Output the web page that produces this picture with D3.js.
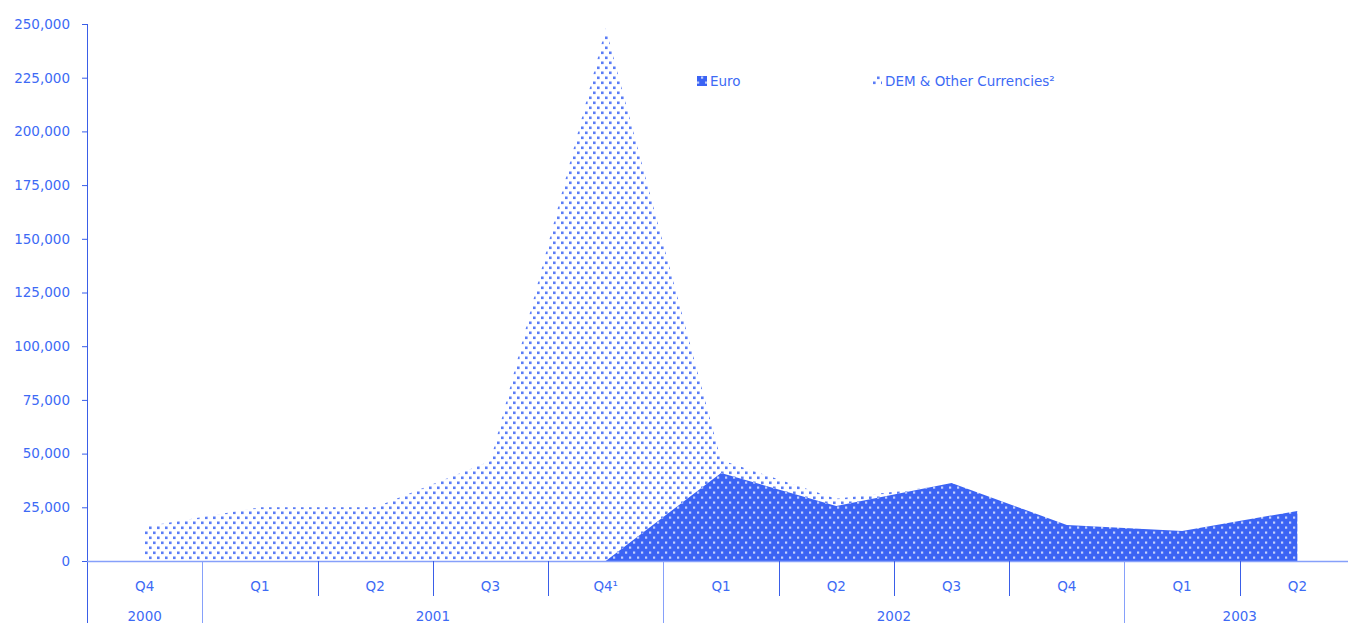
<!DOCTYPE html>
<html><head><meta charset="utf-8">
<script src="https://cdn.jsdelivr.net/npm/d3@7"></script>
<style>body{margin:0;background:#fff;}svg{display:block;}</style>
</head><body>
<svg id="c" width="1348" height="623"></svg>
<script>
const quarters = ["Q4","Q1","Q2","Q3","Q4\u00b9","Q1","Q2","Q3","Q4","Q1","Q2"];
const years = [{label:"2000",from:0,to:0},{label:"2001",from:1,to:4},{label:"2002",from:5,to:8},{label:"2003",from:9,to:10}];
const demOther = [16000,25000,25000,46500,248000,47000,29000,35500];
const euro = [null,null,null,null,0,41000,25600,36300,16800,14000,23300];
const yTicks = [0,25000,50000,75000,100000,125000,150000,175000,200000,225000,250000];
const seriesNames = ["Euro","DEM & Other Currencies\u00b2"];

(function(){
const svg = d3.select("#c");
const blue = "#3b63f4", textBlue = "#3d6af5", axisBlue = "#3a5ee8", lightAxis = "#86a0fa";
const font = "DejaVu Sans, Verdana, sans-serif";
const fs = 13.5;
const mLeft = 87, mRight = 1355, mTop = 24, mBottom = 561;

const x = d3.scaleBand().domain(d3.range(quarters.length)).range([mLeft, mRight]).paddingInner(0).paddingOuter(0);
const cx = i => x(i) + x.bandwidth()/2;
const y = d3.scaleLinear().domain([0,250000]).range([mBottom, mTop]);

const defs = svg.append("defs");
function pat(id, bg, dot, s){
  const p = defs.append("pattern").attr("id",id).attr("patternUnits","userSpaceOnUse").attr("width",8).attr("height",10);
  p.append("rect").attr("width",8).attr("height",10).attr("fill",bg);
  p.append("rect").attr("x",1).attr("y",1.5).attr("width",s).attr("height",s).attr("fill",dot);
  p.append("rect").attr("x",5).attr("y",6.5).attr("width",s).attr("height",s).attr("fill",dot);
}
pat("dots","#fff","#5a7cf6",2.6);
pat("edots",blue,"#c3d0fc",2.2);

const area = d3.area().defined(d => d[1] != null).x(d => cx(d[0])).y0(y(0)).y1(d => y(d[1]));
svg.append("path").attr("d", area(demOther.map((v,i)=>[i,v]))).attr("fill","url(#dots)");
svg.append("path").attr("d", area(euro.map((v,i)=>[i,v]))).attr("fill","url(#edots)");

const yAxis = d3.axisLeft(y).tickValues(yTicks).tickSize(5).tickPadding(12).tickFormat(d3.format(","));
const ga = svg.append("g").attr("transform",`translate(${mLeft},0)`).call(yAxis);
ga.select(".domain").remove();
ga.selectAll("line").attr("stroke",axisBlue);
ga.selectAll("text").attr("fill",textBlue).attr("font-family",font).attr("font-size",fs);
svg.append("line").attr("x1",mLeft+0.5).attr("x2",mLeft+0.5).attr("y1",mTop).attr("y2",623).attr("stroke",axisBlue);

svg.append("line").attr("x1",mLeft).attr("x2",1348).attr("y1",mBottom+0.5).attr("y2",mBottom+0.5).attr("stroke",lightAxis).attr("stroke-width",1.5);
const yearStarts = years.map(d => d.from);
d3.range(1, quarters.length).forEach(i => {
  const long = yearStarts.includes(i);
  svg.append("line").attr("x1",Math.round(x(i))+0.5).attr("x2",Math.round(x(i))+0.5)
    .attr("y1",mBottom).attr("y2",long?623:596).attr("stroke",long?lightAxis:axisBlue);
});
svg.append("g").selectAll("text").data(quarters).join("text")
  .attr("x",(d,i)=>cx(i)).attr("y",591).attr("text-anchor","middle")
  .attr("fill",textBlue).attr("font-family",font).attr("font-size",fs).text(d=>d);
svg.append("g").selectAll("text").data(years).join("text")
  .attr("x",d=>(x(d.from)+x(d.to)+x.bandwidth())/2).attr("y",621).attr("text-anchor","middle")
  .attr("fill",textBlue).attr("font-family",font).attr("font-size",fs).text(d=>d.label);

const leg = [{name:seriesNames[0],fill:"url(#edots)",x:697},{name:seriesNames[1],fill:"url(#dots)",x:872}];
leg.forEach(l => {
  svg.append("rect").attr("x",l.x).attr("y",76).attr("width",10).attr("height",10).attr("fill",l.fill);
  svg.append("text").attr("x",l.x+13).attr("y",86).attr("fill",textBlue).attr("font-family",font).attr("font-size",fs).text(l.name);
});
})();
</script>
</body></html>
